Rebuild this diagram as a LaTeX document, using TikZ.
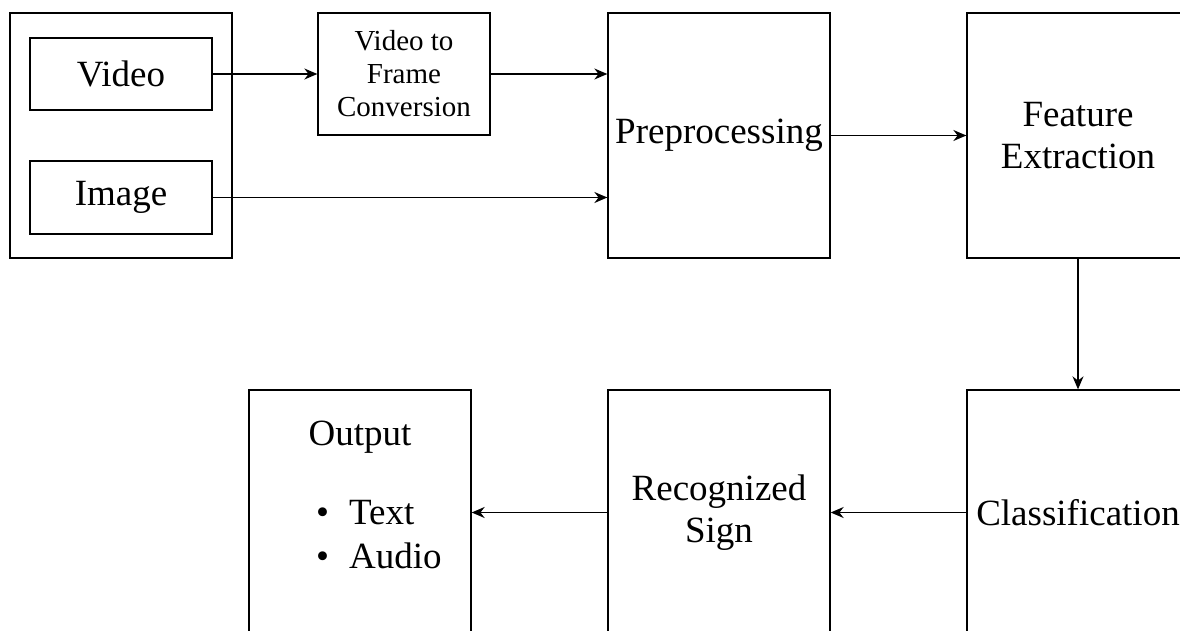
\documentclass[tikz,border=0pt]{standalone}
\usepackage{fontspec}
\setmainfont{Liberation Serif}
\usetikzlibrary{arrows.meta}
\tikzset{
  blockbox/.style={draw, line width=1.3pt, inner sep=0pt, align=center,
    font=\fontsize{37}{42}\selectfont},
  flowarrow/.style={draw, line width=1.5pt, -{Stealth[length=13pt,width=11pt]}}
}
\begin{document}
\begin{tikzpicture}[x=1pt, y=-1pt]
    \useasboundingbox (0,0) rectangle (1180,631);
    \clip (0,0) rectangle (1180,631);
    % input group
    \node[blockbox, minimum width=222pt, minimum height=245pt] (inbox) at (121,135.5) {};
    \node[blockbox, minimum width=182pt, minimum height=72pt] (video) at (121,74) {Video};
    \node[blockbox, minimum width=182pt, minimum height=73pt] (image) at (121,197.5) {Image};
    \node[blockbox, minimum width=172pt, minimum height=122pt,
      font=\fontsize{29}{33}\selectfont] (vtf) at (404,74) {Video to\\Frame\\Conversion};
    % main blocks
    \node[blockbox, minimum width=222pt, minimum height=245pt] (pre) at (719,135.5) {Preprocessing};
    \node[blockbox, minimum width=222pt, minimum height=245pt] (feat) at (1078,135.5) {Feature\\Extraction};
    \node[blockbox, minimum width=222pt, minimum height=245pt] (cls) at (1078,512.5) {Classification};
    \node[blockbox, minimum width=222pt, minimum height=245pt] (rec) at (719,512.5) {Recognized\\Sign};
    \node[blockbox, minimum width=222pt, minimum height=245pt] (out) at (360,512.5) {};
    \node[font=\fontsize{37}{42}\selectfont] (outtitle) at (360,437) {Output};
    \node[anchor=west, align=left, inner sep=0pt, font=\fontsize{37}{44}\selectfont]
      (outlist) at (316,535) {\textbullet\hspace{20pt}Text\\\textbullet\hspace{20pt}Audio};
    % connectors
    \draw[flowarrow] (video.east) -- (vtf.west);
    \draw[flowarrow] (vtf.east) -- (vtf.east -| pre.west);
    \draw[flowarrow] (image.east) -- (image.east -| pre.west);
    \draw[flowarrow] (pre.east) -- (feat.west);
    \draw[flowarrow] (feat.south) -- (cls.north);
    \draw[flowarrow] (cls.west) -- (rec.east);
    \draw[flowarrow] (rec.west) -- (out.east);
\end{tikzpicture}
\end{document}
